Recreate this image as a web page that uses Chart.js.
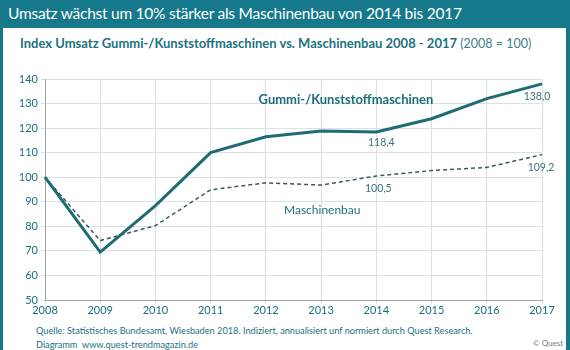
<!DOCTYPE html>
<html lang="de">
<head>
  <meta charset="UTF-8" />
  <title>Umsatz Gummi-/Kunststoffmaschinen vs. Maschinenbau</title>
  <script src="https://cdn.jsdelivr.net/npm/chart.js"></script>
  <style>
    body { margin: 0; width: 570px; height: 350px; overflow: hidden; background: #16788b; position: relative; font-family: Lato, sans-serif; }
    #title { position: absolute; left: 8px; top: 4px; color: #fff; font-size: 15.5px; letter-spacing: -0.25px; white-space: nowrap; }
    #panel { position: absolute; left: 3px; top: 28px; width: 563px; height: 330px; background: #fff; }
    #sub { position: absolute; left: 20px; top: 35px; color: #1c7280; font-size: 13px; font-weight: bold; white-space: nowrap; }
    #sub span { font-weight: normal; font-size: 12.5px; color: #3f7f8a; }
    #src { position: absolute; left: 36px; top: 324px; color: #1c7280; font-size: 9.2px; line-height: 14px; white-space: nowrap; }
    #copy { position: absolute; left: 533px; top: 338px; color: #777; font-size: 8px; }
    canvas { position: absolute; left: 0; top: 0; }
  </style>
</head>
<body>
  <div id="title">Umsatz wächst um 10% stärker als Maschinenbau von 2014 bis 2017</div>
  <div id="panel"></div>
  <div id="sub">Index Umsatz Gummi-/Kunststoffmaschinen vs. Maschinenbau 2008 - 2017 <span>(2008 = 100)</span></div>
  <div id="src">Quelle: Statistisches Bundesamt, Wiesbaden 2018. Indiziert, annualisiert unf normiert durch Quest Research.<br>Diagramm&nbsp; www.quest-trendmagazin.de</div>
  <div id="copy">© Quest</div>
  <canvas id="chart" width="570" height="350"></canvas>

  <script>
    const years = ['2008', '2009', '2010', '2011', '2012', '2013', '2014', '2015', '2016', '2017'];
    const gummi = [100, 69.5, 88.4, 110, 116.5, 118.8, 118.4, 123.8, 132, 138.0];
    const maschinenbau = [100, 74.2, 80.3, 94.9, 97.7, 96.8, 100.5, 102.7, 104, 109.2];

    const teal = '#1f6b75';

    // Beschriftungen an den Linien
    const labelPlugin = {
      id: 'labels',
      afterDatasetsDraw(chart) {
        const ctx = chart.ctx;
        const x = chart.scales.x, y = chart.scales.y;
        ctx.save();
        ctx.textAlign = 'center';
        ctx.textBaseline = 'middle';
        ctx.fillStyle = '#1c6f7a';
        ctx.font = 'bold 13px Lato';
        ctx.fillText('Gummi-/Kunststoffmaschinen', x.getPixelForValue(5.45), y.getPixelForValue(131.6));
        ctx.font = '12px Lato';
        ctx.fillText('Maschinenbau', x.getPixelForValue(5.02), y.getPixelForValue(86.7));
        ctx.fillStyle = '#3f6f78';
        ctx.font = '10.5px Lato';
        ctx.fillText('118,4', x.getPixelForValue(6) + 5, y.getPixelForValue(gummi[6]) + 11);
        ctx.fillText('100,5', x.getPixelForValue(6) + 2, y.getPixelForValue(maschinenbau[6]) + 13);
        ctx.fillText('138,0', x.getPixelForValue(9) - 5, y.getPixelForValue(gummi[9]) + 13);
        ctx.fillText('109,2', x.getPixelForValue(9) - 1, y.getPixelForValue(maschinenbau[9]) + 13);
        ctx.restore();
      }
    };

    new Chart(document.getElementById('chart'), {
      type: 'line',
      data: {
        labels: years,
        datasets: [{
          label: 'Gummi-/Kunststoffmaschinen',
          data: gummi,
          borderColor: teal,
          borderWidth: 3,
          pointRadius: 0,
          tension: 0
        }, {
          label: 'Maschinenbau',
          data: maschinenbau,
          borderColor: '#3a5a61',
          borderWidth: 1.5,
          borderDash: [4, 3],
          pointRadius: 0,
          tension: 0
        }]
      },
      options: {
        responsive: false,
        animation: false,
        layout: { padding: { left: 0, right: 28, top: 79, bottom: 34 } },
        plugins: { legend: { display: false }, tooltip: { enabled: false } },
        scales: {
          x: {
            grid: { color: '#d6e2e5', tickLength: 4 },
            border: { color: '#9aa8ab' },
            ticks: { color: '#1c6f7a', font: { family: 'Lato', size: 11 }, padding: 0, maxRotation: 0 },
            afterFit(s) { s.height = 16; }
          },
          y: {
            min: 50, max: 140,
            grid: { color: '#d6e2e5', tickLength: 4 },
            border: { color: '#9aa8ab' },
            ticks: { stepSize: 10, color: '#1c6f7a', font: { family: 'Lato', size: 11 }, padding: 3 },
            afterFit(s) { s.width = 45; }
          }
        }
      },
      plugins: [labelPlugin]
    });
  </script>
</body>
</html>
